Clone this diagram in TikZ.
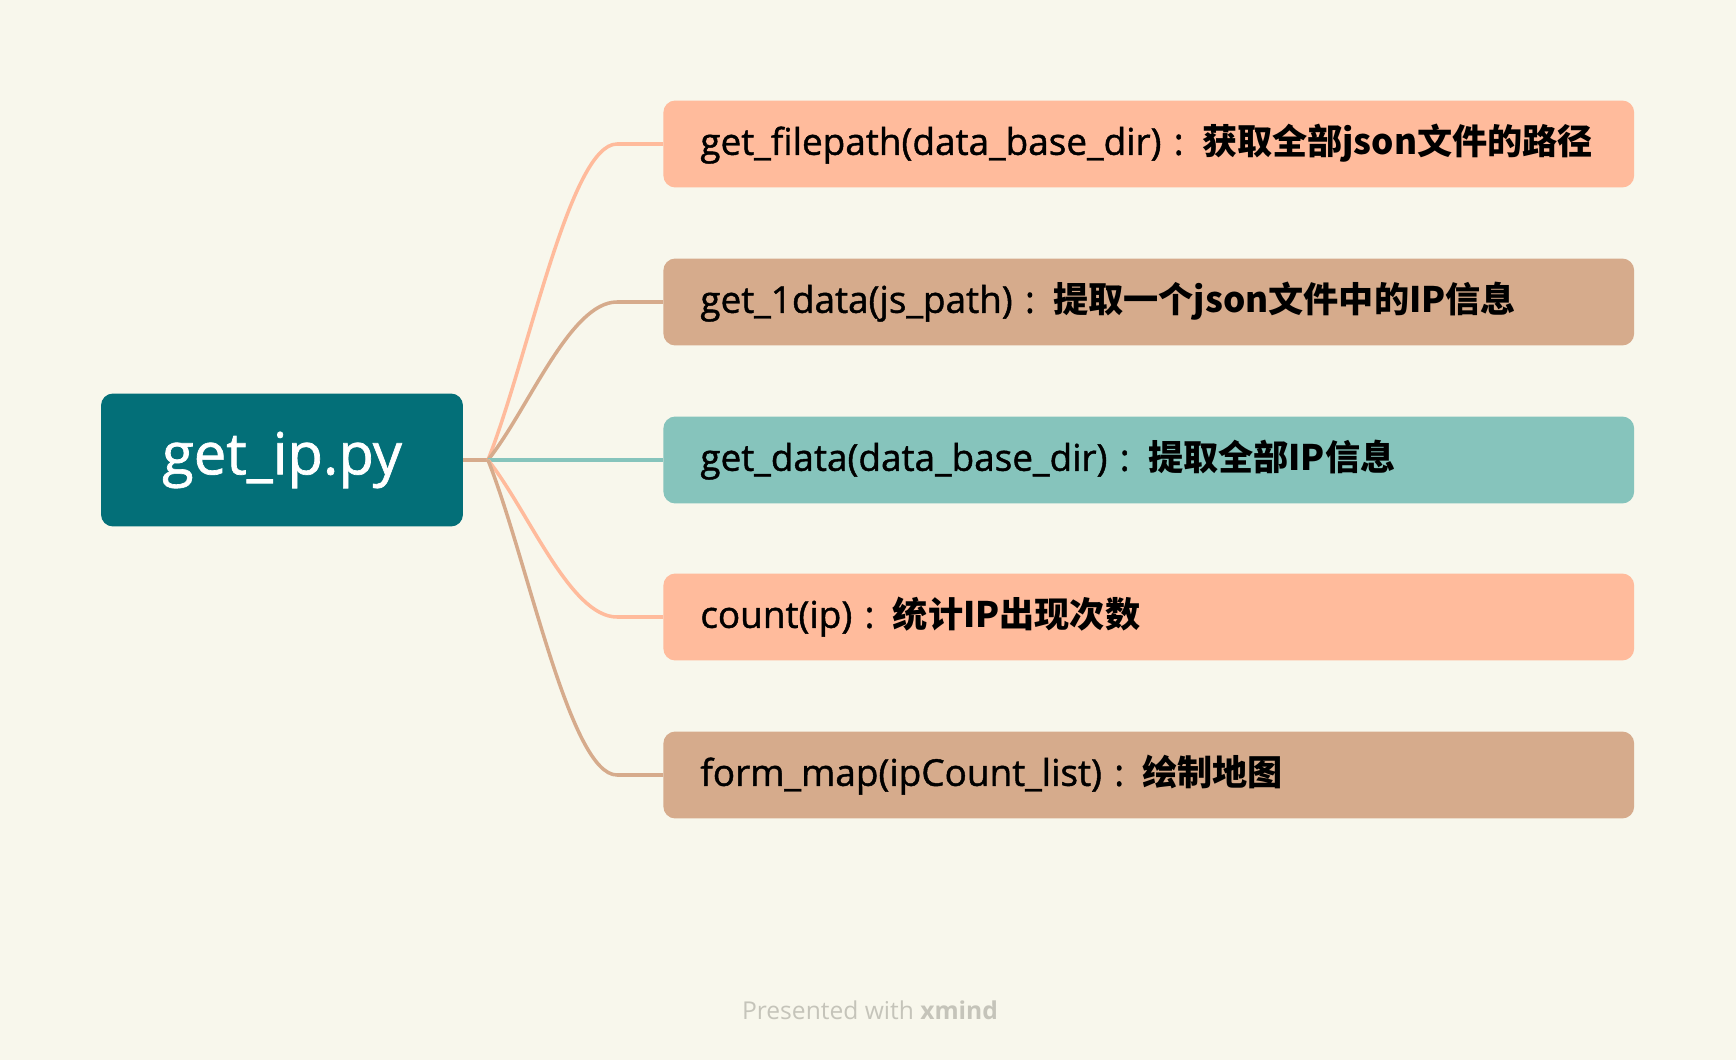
\documentclass[tikz,border=0pt]{standalone}
\usepackage{fontspec}
\setmainfont{Open Sans}
\newfontfamily\medium{Open Sans}[FakeBold=1.2]
\newfontfamily\cjk{Noto Sans CJK SC}
\newcommand{\zh}[1]{{\cjk\bfseries\fontsize{20}{24}\selectfont #1}}
\usetikzlibrary{positioning}
\definecolor{bgcream}{HTML}{F8F7EC}
\definecolor{rootteal}{HTML}{036F78}
\definecolor{salmon}{HTML}{FFBB9C}
\definecolor{tanbox}{HTML}{D6AB8C}
\definecolor{mint}{HTML}{86C4BC}
\definecolor{footgray}{HTML}{C5C4BA}

\begin{document}
\begin{tikzpicture}[x=0.02cm, y=-0.02cm,
  topic/.style={rounded corners=0.24cm, anchor=west, text width=17.94cm, inner xsep=0.74cm, minimum height=1.74cm, align=left, font=\medium\fontsize{21}{24}\selectfont},
  tie/.style={line width=2pt}]
  \fill[bgcream] (0,0) rectangle (1736,1060);
  \useasboundingbox (0,0) rectangle (1736,1060);

  % central topic
  \node[fill=rootteal, rounded corners=0.24cm, minimum width=7.24cm, minimum height=2.66cm, text=white, font=\medium\fontsize{33}{38}\selectfont] (root) at (282,460) {get\_ip.py};
  \coordinate (hub) at (488,460);

  % subtopics
  \node[topic, fill=salmon] (fpath) at (663,144) {get\_filepath(data\_base\_dir) : \zh{获取全部json文件的路径}};
  \node[topic, fill=tanbox] (one) at (663,302) {get\_1data(js\_path) : \zh{提取一个json文件中的IP信息}};
  \node[topic, fill=mint] (alldata) at (663,460) {get\_data(data\_base\_dir) : \zh{提取全部IP信息}};
  \node[topic, fill=salmon] (cnt) at (663,617) {count(ip) : \zh{统计IP出现次数}};
  \node[topic, fill=tanbox] (fmap) at (663,775) {form\_map(ipCount\_list) : \zh{绘制地图}};

  \coordinate (k1) at (617,144);
  \coordinate (k2) at (617,302);
  \coordinate (k4) at (617,617);
  \coordinate (k5) at (617,775);

  % branches
  \draw[tie, tanbox] (root) -- (hub);
  \draw[tie, salmon] (hub) .. controls +(40,-101) and +(-47,0) .. (k1) -- (fpath.west);
  \draw[tie, tanbox] (hub) .. controls +(40,-50) and +(-47,0) .. (k2) -- (one.west);
  \draw[tie, mint] (hub) -- (alldata.west);
  \draw[tie, salmon] (hub) .. controls +(40,50) and +(-47,0) .. (k4) -- (cnt.west);
  \draw[tie, tanbox] (hub) .. controls +(40,101) and +(-47,0) .. (k5) -- (fmap.west);

  \node[text=footgray, font=\fontsize{14}{16}\selectfont] (credit) at (870,1010) {Presented with \textbf{xmind}};
\end{tikzpicture}
\end{document}
